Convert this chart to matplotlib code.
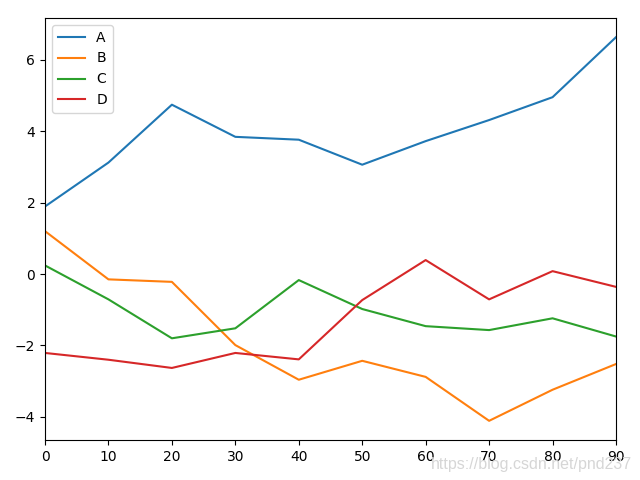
import matplotlib
matplotlib.use("Agg")
import matplotlib.pyplot as plt

x = [0, 10, 20, 30, 40, 50, 60, 70, 80, 90]
A = [1.89, 3.12, 4.74, 3.84, 3.76, 3.06, 3.72, 4.31, 4.95, 6.63]
B = [1.20, -0.15, -0.22, -1.99, -2.96, -2.43, -2.88, -4.11, -3.24, -2.52]
C = [0.24, -0.71, -1.80, -1.52, -0.17, -0.98, -1.46, -1.57, -1.24, -1.75]
D = [-2.21, -2.40, -2.63, -2.21, -2.39, -0.73, 0.39, -0.71, 0.08, -0.36]
series = {"A": A, "B": B, "C": C, "D": D}

fig, ax = plt.subplots(figsize=(6.4, 4.8), dpi=100)
for name, vals in series.items():
    ax.plot(x, vals, label=name)
ax.set_xlim(0, 90)
ax.set_xticks(x)
ax.legend(loc="upper left")
fig.subplots_adjust(left=45/640, right=616/640, top=1-18/480, bottom=1-440/480)
fig.text(431/640, 1-469/480, "https://blog.csdn.net/pnd237", fontsize=11.5,
         family="Liberation Sans", color="#d6d6d6")
fig.savefig("out.png", dpi=100)
